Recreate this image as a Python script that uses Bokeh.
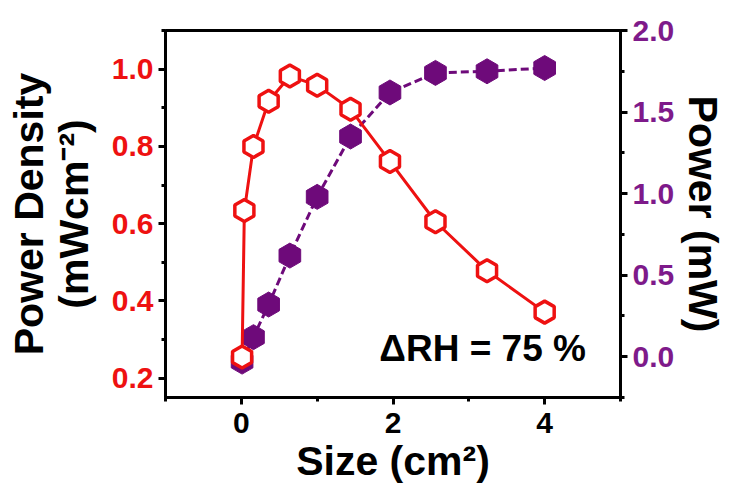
import math
from bokeh.plotting import figure
from bokeh.models import Range1d, LinearAxis, Label, SingleIntervalTicker, PrintfTickFormatter
from bokeh.embed import file_html
from bokeh.resources import INLINE

# Data
size_pd = [0.01, 0.04, 0.16, 0.36, 0.64, 1.0, 1.44, 1.96, 2.56, 3.24, 4.0]
power_density = [0.255, 0.634, 0.80, 0.917, 0.982, 0.958, 0.896, 0.761, 0.605, 0.478, 0.371]
size_p = [0.01, 0.16, 0.36, 0.64, 1.0, 1.44, 1.96, 2.56, 3.24, 4.0]
power = [-0.03, 0.12, 0.32, 0.62, 0.98, 1.35, 1.62, 1.74, 1.75, 1.77]

RED = "#ee1111"
PURPLE = "#6e0a7a"
PURPLE_TXT = "#7e1a8a"
FONT = "Liberation Sans"

p = figure(width=729, height=487, output_backend="svg", toolbar_location=None,
           x_range=Range1d(-1, 5), y_range=Range1d(0.15, 1.1),
           min_border_left=165, min_border_right=108, min_border_top=30, min_border_bottom=90)
p.extra_y_ranges = {"power": Range1d(-0.25, 2.0)}
p.grid.visible = False
p.outline_line_color = "black"
p.outline_line_width = 3
p.background_fill_color = "white"
p.border_fill_color = "white"

# x axis
xa = p.xaxis[0]
xa.ticker = SingleIntervalTicker(interval=2, num_minor_ticks=2)
xa.axis_label = "Size (cm²)"
xa.major_label_text_color = "black"

# left axis
ya = p.yaxis[0]
ya.ticker = SingleIntervalTicker(interval=0.2, num_minor_ticks=2)
ya.formatter = PrintfTickFormatter(format="%.1f")
ya.axis_label = "Power Density\n(mWcm⁻²)"
ya.major_label_text_color = RED

# right axis
yr = LinearAxis(y_range_name="power", ticker=SingleIntervalTicker(interval=0.5, num_minor_ticks=2),
                formatter=PrintfTickFormatter(format="%.1f"), axis_label="Power (mW)")
yr.major_label_text_color = PURPLE_TXT
p.add_layout(yr, "right")

for ax in [xa, ya, yr]:
    ax.axis_line_width = 3
    ax.major_tick_line_width = 3
    ax.minor_tick_line_width = 3
    ax.major_tick_out = 7
    ax.major_tick_in = 0
    ax.minor_tick_out = 4
    ax.minor_tick_in = 0
    ax.major_label_text_font = FONT
    ax.major_label_text_font_style = "bold"
    ax.major_label_text_font_size = "30px"
    ax.major_label_standoff = 5
    ax.axis_label_text_font = FONT
    ax.axis_label_text_font_style = "bold"
    ax.axis_label_text_font_size = "41px"
    ax.axis_label_text_color = "black"
    ax.axis_label_standoff = 6
ya.axis_label_text_line_height = 0.97
ya.axis_label_standoff = 12
xa.major_label_standoff = 8
xa.axis_label_standoff = 2
yr.axis_label_standoff = 3

# Power (purple, right axis)
p.line(size_p, power, y_range_name="power", line_color=PURPLE, line_width=3, line_dash="8 4")
p.scatter(size_p, power, y_range_name="power", marker="hex", angle=math.pi / 2, size=25,
          fill_color=PURPLE, line_color=PURPLE, line_width=1)

# Power density (red, left axis)
p.line(size_pd, power_density, line_color=RED, line_width=3)
p.scatter(size_pd, power_density, marker="hex", angle=math.pi / 2, size=22,
          fill_color="white", line_color=RED, line_width=3.5)

p.add_layout(Label(x=1.82, y=0.278, text="ΔRH = 75 %", text_font=FONT, text_font_style="bold",
                   text_font_size="37px", text_color="black", text_baseline="middle"))

open("out.html", "w").write(file_html(p, INLINE))
